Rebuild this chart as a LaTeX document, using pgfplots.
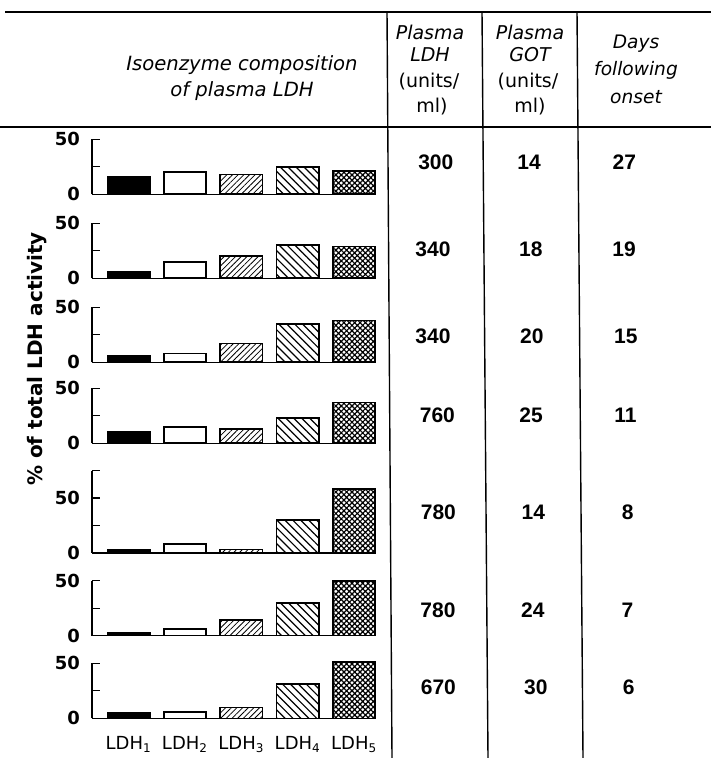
\documentclass[border=0pt]{standalone}
\usepackage{fontspec}
\setmainfont{DejaVu Sans}
\newfontfamily\numfont{Liberation Sans}
\usepackage{pgfplots}
\pgfplotsset{compat=1.18}
\usetikzlibrary{patterns.meta}

\pgfplotsset{
  panel/.style={
    scale only axis, width=141.5pt, height=27.5pt,
    anchor=south west,
    axis lines=left, axis line style={-, line width=0.6pt},
    xmin=0.35, xmax=5.37, ymin=0, ymax=50,
    ytick={0,25,50}, yticklabels={\textbf{0},,\textbf{50}},
    xtick=\empty,
    tick align=inside, major tick length=4pt,
    tick style={line width=0.6pt, black},
    ybar, bar width=0.75, bar shift=0pt, clip=false,
    tick label style={font=\fontsize{9}{10}\selectfont},
    yticklabel style={xshift=-2.5pt},
  },
  ldh1/.style={draw=black, line width=0.8pt, fill=black},
  ldh2/.style={draw=black, line width=0.8pt, fill=white},
  ldh3/.style={draw=black, line width=0.8pt,
    pattern={Lines[angle=45, distance=2pt, line width=0.4pt]}},
  ldh4/.style={draw=black, line width=0.8pt,
    pattern={Lines[angle=-45, distance=2.8pt, line width=0.6pt]}},
  ldh5/.style={draw=black, line width=0.8pt,
    pattern={Hatch[angle=45, distance=1.9pt, line width=0.6pt]}},
}

% #1 baseline (pt), #2 extra axis options, #3-#7 LDH1..LDH5 in %
\newcommand{\panel}[7]{%
  \begin{axis}[panel, at={(46pt,#1)}, #2]
    \addplot[ldh1] coordinates {(1,#3)};
    \addplot[ldh2] coordinates {(2,#4)};
    \addplot[ldh3] coordinates {(3,#5)};
    \addplot[ldh4] coordinates {(4,#6)};
    \addplot[ldh5] coordinates {(5,#7)};
  \end{axis}}

\begin{document}
\begin{tikzpicture}
  \path[use as bounding box] (0,0) rectangle (355.5pt,379pt);

  % table rules
  \draw[line width=1pt] (2.5pt,373pt) -- (355.5pt,373pt);
  \draw[line width=1pt] (0pt,315.5pt) -- (355.5pt,315.5pt);
  \draw[line width=0.7pt] (193.5pt,373pt) -- (196pt,0pt);
  \draw[line width=0.7pt] (241pt,373pt) -- (244pt,0pt);
  \draw[line width=0.7pt] (288.5pt,373pt) -- (291.5pt,0pt);

  % header
  \begin{scope}[every node/.style={font=\fontsize{9.5}{11}\selectfont, inner sep=0pt}]
    \node[font=\fontsize{9.8}{11}\selectfont\itshape] at (121pt,346.5pt) {Isoenzyme composition};
    \node[font=\fontsize{9.8}{11}\selectfont\itshape] at (121pt,333.2pt) {of plasma LDH};
    \node[font=\fontsize{9.5}{11}\selectfont\itshape] at (215pt,363pt) {Plasma};
    \node[font=\fontsize{9.5}{11}\selectfont\itshape] at (215pt,351.5pt) {LDH};
    \node at (214.5pt,338pt) {(units/};
    \node at (216pt,325.7pt) {ml)};
    \node[font=\fontsize{9.5}{11}\selectfont\itshape] at (265pt,363pt) {Plasma};
    \node[font=\fontsize{9.5}{11}\selectfont\itshape] at (265pt,351.5pt) {GOT};
    \node at (264pt,338pt) {(units/};
    \node at (265pt,325.7pt) {ml)};
    \node[font=\fontsize{9.3}{11}\selectfont\itshape] at (318pt,357.3pt) {Days};
    \node[font=\fontsize{9.3}{11}\selectfont\itshape] at (318pt,344pt) {following};
    \node[font=\fontsize{9.3}{11}\selectfont\itshape] at (318pt,330.6pt) {onset};
  \end{scope}

  % table values: plasma LDH, plasma GOT, days following onset
  \begin{scope}[every node/.style={font=\numfont\fontsize{10.5}{12}\selectfont\bfseries}]
    \node at (217.9pt,298pt)    {300}; \node at (264.5pt,298pt)    {14}; \node at (312.2pt,298pt)    {27};
    \node at (216.5pt,254.2pt)  {340}; \node at (265.4pt,254.2pt)  {18}; \node at (312pt,254.2pt)    {19};
    \node at (216.5pt,210.9pt)  {340}; \node at (265.9pt,210.9pt)  {20}; \node at (312.9pt,210.9pt)  {15};
    \node at (218.7pt,171.4pt)  {760}; \node at (265.5pt,171.4pt)  {25}; \node at (312.7pt,171.4pt)  {11};
    \node at (219.2pt,122.7pt)  {780}; \node at (266.7pt,122.7pt)  {14}; \node at (313.9pt,122.7pt)  {8};
    \node at (219pt,73.7pt)     {780}; \node at (266.4pt,73.7pt)   {24}; \node at (313.7pt,73.7pt)   {7};
    \node at (219.2pt,35.4pt)   {670}; \node at (267.9pt,35.4pt)   {30}; \node at (314.4pt,35.4pt)   {6};
  \end{scope}

  % y label
  \node[rotate=90, font=\fontsize{10}{12}\selectfont\bfseries] at (18.5pt,199.5pt) {\% of total LDH activity};

  % isoenzyme panels (27, 19, 15, 11, 8, 7, 6 days)
  \panel{281.85pt}{}{16}{20}{18}{25}{21}
  \panel{239.85pt}{}{6}{15}{20}{30}{29}
  \panel{197.85pt}{}{6}{8}{17}{35}{38}
  \panel{157.35pt}{}{10}{15}{13}{23}{37}
  \panel{102.5pt}{ymax=75, height=41.25pt, ytick={0,25,50,75},
    yticklabels={\textbf{0},,\textbf{50},}}{3}{8}{3}{30}{58}
  \panel{61.15pt}{}{3}{6}{14}{30}{50}
  \panel{19.85pt}{xtick={1,2,3,4,5},
    xticklabels={LDH\textsubscript{1},LDH\textsubscript{2},LDH\textsubscript{3},LDH\textsubscript{4},LDH\textsubscript{5}},
    x tick style={draw=none},
    xticklabel style={font=\fontsize{9}{10}\selectfont, yshift=-1.5pt}}{5}{6}{10}{31}{51}
\end{tikzpicture}
\end{document}
